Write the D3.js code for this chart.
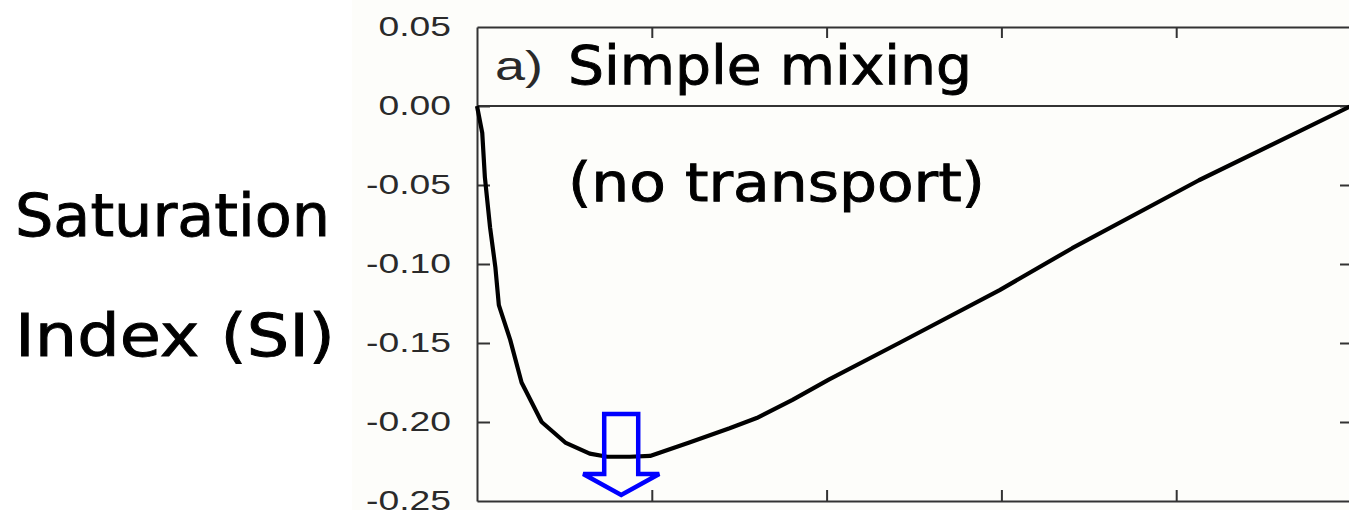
<!DOCTYPE html>
<html>
<head>
<meta charset="utf-8">
<script src="https://cdn.jsdelivr.net/npm/d3@7"></script>
<style>
  html, body { margin: 0; padding: 0; background: #ffffff; }
  svg { display: block; }
</style>
</head>
<body>
<svg id="chart" width="1349" height="510"></svg>
<script>
// Mixing fraction (x) and saturation index (SI) along the simple-mixing curve
const mixFraction = [0.000, 0.006, 0.009, 0.015, 0.021, 0.025, 0.038, 0.051, 0.074, 0.101, 0.129,
                     0.149, 0.175, 0.198, 0.243, 0.289, 0.320, 0.361, 0.403, 0.483, 0.598, 0.681,
                     0.826, 1.000];
const siValues    = [0.000, -0.017, -0.045, -0.077, -0.102, -0.126, -0.148, -0.175, -0.200, -0.213, -0.220,
                     -0.222, -0.222, -0.2215, -0.213, -0.204, -0.1975, -0.186, -0.173, -0.150, -0.1165, -0.090,
                     -0.047, 0.000];
const yTicks = [0.05, 0.00, -0.05, -0.10, -0.15, -0.20, -0.25];
const xTicks = [0.2, 0.4, 0.6, 0.8];
const arrowAt = 0.165;   // mixing fraction of the SI minimum

const titleLines = ["Simple mixing", "(no transport)"];
const panelTag = "a)";
const yTitleLines = ["Saturation", "Index (SI)"];

const svg = d3.select("#chart");

// frame geometry
const frameL = 477, frameR = 1351, frameT = 27, frameB = 501;

const x = d3.scaleLinear().domain([0, 1]).range([frameL, frameR]);
const y = d3.scaleLinear().domain([-0.25, 0.05]).range([frameB, frameT]);

// faintly tinted background behind the plot panel
svg.append("rect").attr("x", 352).attr("y", 0).attr("width", 1000).attr("height", 510)
  .attr("fill", "#fdfdfa");

const axisColor = "#333333";
const labelFont = "'Liberation Sans', Arial, sans-serif";
const labelStretch = 1.33;   // the axis lettering is drawn wide

// left axis with labels, ticks pointing inward
const gLeft = svg.append("g").attr("transform", `translate(${frameL},0)`)
  .call(d3.axisLeft(y).tickValues(yTicks).tickFormat(d3.format(".2f"))
        .tickSizeInner(-13).tickSizeOuter(0).tickPadding(26));
gLeft.attr("font-size", null).attr("font-family", null);
gLeft.selectAll("text")
  .style("font-family", labelFont)
  .style("font-size", "28px")
  .attr("fill", "#2a2a2a")
  .text(d => d3.format(".2f")(d).replace("−", "-"))
  .each(function () {
    const w = this.getComputedTextLength();
    d3.select(this).attr("textLength", w * labelStretch).attr("lengthAdjust", "spacingAndGlyphs");
  });

// right axis, ticks only
const gRight = svg.append("g").attr("transform", `translate(${frameR},0)`)
  .call(d3.axisRight(y).tickValues(yTicks.slice(1, -1)).tickFormat("")
        .tickSizeInner(-11).tickSizeOuter(0));

// top and bottom axes, ticks only
const gTop = svg.append("g").attr("transform", `translate(0,${frameT})`)
  .call(d3.axisTop(x).tickValues(xTicks).tickFormat("").tickSizeInner(-11).tickSizeOuter(0));
const gBottom = svg.append("g").attr("transform", `translate(0,${frameB})`)
  .call(d3.axisBottom(x).tickValues(xTicks).tickFormat("").tickSizeInner(-11).tickSizeOuter(0));

[gLeft, gRight, gTop, gBottom].forEach(g => {
  g.select(".domain").attr("stroke", axisColor).attr("stroke-width", 2);
  g.selectAll(".tick line").attr("stroke", axisColor).attr("stroke-width", 2);
});
gLeft.selectAll(".tick line").filter(d => d === 0.05 || d === -0.25).remove();

// zero reference line
svg.append("line")
  .attr("x1", x(0)).attr("x2", x(1)).attr("y1", y(0)).attr("y2", y(0))
  .attr("stroke", axisColor).attr("stroke-width", 2);

// SI curve
const pts = mixFraction.map((f, i) => [f, siValues[i]]);
svg.append("path")
  .datum(pts)
  .attr("fill", "none")
  .attr("stroke", "#000")
  .attr("stroke-width", 4.2)
  .attr("stroke-linejoin", "round")
  .attr("d", d3.line().x(d => x(d[0])).y(d => y(d[1])));

// hollow arrow pointing at the minimum
const ax = x(arrowAt);
const shaftHalf = 17, headHalf = 38;
const shaftTop = 414, headBase = 474, tip = 495;
const arrowPts = [
  [ax - shaftHalf, shaftTop], [ax + shaftHalf, shaftTop], [ax + shaftHalf, headBase],
  [ax + headHalf, headBase], [ax, tip], [ax - headHalf, headBase], [ax - shaftHalf, headBase]
];
svg.append("path")
  .attr("d", d3.line()(arrowPts) + "Z")
  .attr("fill", "none")
  .attr("stroke", "#0000ff")
  .attr("stroke-width", 4.5)
  .attr("stroke-linejoin", "miter");

// panel tag
svg.append("text")
  .attr("x", 495).attr("y", 80)
  .style("font-family", labelFont)
  .style("font-size", "41px")
  .attr("fill", "#2a2a2a")
  .attr("textLength", 48).attr("lengthAdjust", "spacingAndGlyphs")
  .text(panelTag);

const handFont = "'Comic Sans MS', 'DejaVu Sans', sans-serif";

// title lines inside the panel
const titleSpec = [
  { x: 568, y: 84, w: 404 },
  { x: 568, y: 201, w: 417 }
];
titleLines.forEach((t, i) => {
  svg.append("text")
    .attr("x", titleSpec[i].x).attr("y", titleSpec[i].y)
    .style("font-family", handFont)
    .style("font-size", "53px")
    .attr("fill", "#000")
    .attr("stroke", "#000").attr("stroke-width", 0.9)
    .attr("textLength", titleSpec[i].w).attr("lengthAdjust", "spacingAndGlyphs")
    .text(t);
});

// y-axis title, two lines
const yTitleSpec = [
  { x: 15, y: 236, w: 315 },
  { x: 15, y: 356, w: 320 }
];
yTitleLines.forEach((t, i) => {
  svg.append("text")
    .attr("x", yTitleSpec[i].x).attr("y", yTitleSpec[i].y)
    .style("font-family", handFont)
    .style("font-size", "59px")
    .attr("fill", "#000")
    .attr("stroke", "#000").attr("stroke-width", 0.9)
    .attr("textLength", yTitleSpec[i].w).attr("lengthAdjust", "spacingAndGlyphs")
    .text(t);
});
</script>
</body>
</html>
